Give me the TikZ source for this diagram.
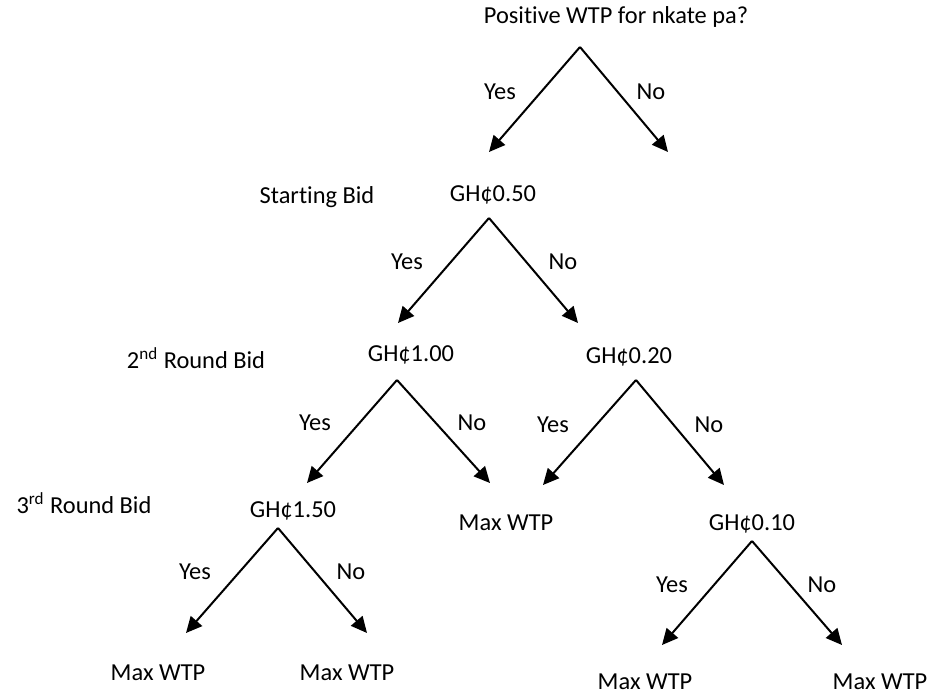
\documentclass[tikz,border=0pt]{standalone}
\usepackage{fontspec}
\setmainfont{Carlito}[Ligatures=NoCommon]
\usetikzlibrary{positioning,arrows.meta}
\tikzset{
  txt/.style={inner sep=0pt,font=\fontsize{12.2}{14}\selectfont},
  arr/.style={-{Triangle[length=8pt,width=7.5pt]},line width=1pt},
}
\begin{document}
\begin{tikzpicture}[x=0.5pt,y=-0.5pt]
	\useasboundingbox (0,0) rectangle (934,696);
	% question and bids
	\node[txt] (wtp) at (616,17) {Positive WTP for nkate pa?};
	\node[txt] (startlbl) at (317,197) {Starting Bid};
	\node[txt] (bid50) at (493,195) {GH¢0.50};
	\node[txt] (roundtwo) at (196,358) {2\textsuperscript{nd} Round Bid};
	\node[txt] (bid100) at (411,355) {GH¢1.00};
	\node[txt] (bid20) at (629,357) {GH¢0.20};
	\node[txt] (roundthree) at (84,503) {3\textsuperscript{rd} Round Bid};
	\node[txt] (bid150) at (293,511) {GH¢1.50};
	\node[txt] (maxa) at (506,523) {Max WTP};
	\node[txt] (bid10) at (752,524) {GH¢0.10};
	\node[txt] (maxb) at (158,673) {Max WTP};
	\node[txt] (maxc) at (347,673) {Max WTP};
	\node[txt] (maxd) at (645,682) {Max WTP};
	\node[txt] (maxe) at (880,682) {Max WTP};
	
	% branch points and arrow ends
	\coordinate (top0) at (580,47);
	\coordinate (yes0) at (489,152);
	\coordinate (no0) at (668,152);
	\coordinate (top1) at (489,218);
	\coordinate (yes1) at (398,323);
	\coordinate (no1) at (578,323);
	\coordinate (top2) at (397,380);
	\coordinate (yes2) at (307,483);
	\coordinate (no2) at (490,483);
	\coordinate (top3) at (636,380);
	\coordinate (yes3) at (543,485);
	\coordinate (no3) at (724,485);
	\coordinate (top4) at (278,528);
	\coordinate (yes4) at (186,633);
	\coordinate (no4) at (367,633);
	\coordinate (top5) at (752,541);
	\coordinate (yes5) at (662,645);
	\coordinate (no5) at (842,645);
	
	\foreach \i in {0,...,5}{
		\draw[arr] (top\i)--(yes\i);
		\draw[arr] (top\i)--(no\i);
	}
	
	% yes / no labels
	\node[txt] (y0) at (500,92) {Yes};
	\node[txt] (n0) at (651,92) {No};
	\node[txt] (y1) at (407,262) {Yes};
	\node[txt] (n1) at (563,262) {No};
	\node[txt] (y2) at (315,423) {Yes};
	\node[txt] (n2) at (472,423) {No};
	\node[txt] (y3) at (553,425) {Yes};
	\node[txt] (n3) at (709,425) {No};
	\node[txt] (y4) at (195,572) {Yes};
	\node[txt] (n4) at (351,572) {No};
	\node[txt] (y5) at (672,585) {Yes};
	\node[txt] (n5) at (822,585) {No};
\end{tikzpicture}
\end{document}
